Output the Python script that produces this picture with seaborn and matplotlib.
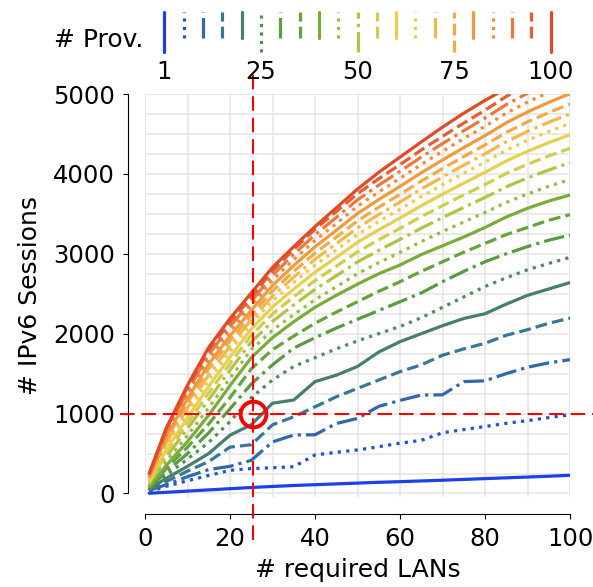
import pandas as pd
import matplotlib
matplotlib.use('Agg')
from matplotlib import pyplot as plt
from matplotlib.ticker import MultipleLocator
import seaborn as sns

# x values (# required LANs)
lans = [1, 5, 10, 15, 20, 25, 30, 35, 40, 45, 50, 55, 60, 65, 70, 75, 80, 85, 90, 95, 100]
providers = [1, 5, 10, 15, 20, 25, 30, 35, 40, 45, 50, 55, 60, 65, 70, 75, 80, 85, 90, 95, 100]

# IPv6 sessions per number of providers
prov_1 = [3, 15, 30, 45, 60, 75, 88, 100, 110, 120, 130, 140, 148, 157, 166, 176, 186, 196, 206, 216, 228]
prov_5 = [20, 90, 160, 225, 290, 312, 322, 335, 482, 515, 545, 585, 630, 665, 760, 800, 838, 878, 912, 950, 985]
prov_10 = [40, 110, 210, 300, 340, 415, 645, 732, 735, 875, 940, 1090, 1165, 1232, 1235, 1400, 1410, 1500, 1580, 1635, 1675]
prov_15 = [45, 150, 280, 400, 580, 610, 860, 960, 1085, 1210, 1315, 1420, 1525, 1610, 1730, 1810, 1880, 1980, 2050, 2130, 2195]
prov_20 = [55, 190, 340, 500, 730, 860, 1130, 1170, 1400, 1480, 1590, 1770, 1900, 2000, 2100, 2190, 2250, 2370, 2480, 2560, 2640]
prov_25 = [60, 230, 430, 640, 900, 1200, 1420, 1590, 1700, 1810, 1910, 2000, 2090, 2200, 2330, 2460, 2590, 2700, 2800, 2880, 2955]
prov_30 = [70, 270, 500, 760, 1060, 1370, 1610, 1820, 1950, 2070, 2180, 2290, 2400, 2510, 2650, 2780, 2900, 3000, 3090, 3170, 3235]
prov_35 = [80, 310, 580, 870, 1200, 1560, 1800, 1970, 2130, 2270, 2400, 2530, 2650, 2780, 2900, 3020, 3130, 3240, 3330, 3420, 3490]
prov_40 = [90, 350, 650, 980, 1350, 1700, 1950, 2150, 2330, 2480, 2620, 2750, 2860, 2990, 3100, 3210, 3330, 3460, 3570, 3660, 3736]
prov_45 = [106, 401, 727, 1073, 1442, 1800, 2044, 2240, 2425, 2586, 2751, 2889, 3018, 3152, 3278, 3399, 3517, 3643, 3749, 3844, 3930]
prov_50 = [127, 459, 812, 1175, 1543, 1896, 2153, 2360, 2554, 2724, 2898, 3043, 3180, 3320, 3453, 3581, 3705, 3838, 3950, 4049, 4140]
prov_55 = [142, 503, 880, 1258, 1627, 1979, 2246, 2462, 2665, 2843, 3024, 3175, 3318, 3465, 3603, 3737, 3866, 4005, 4121, 4225, 4320]
prov_60 = [157, 548, 947, 1340, 1708, 2056, 2335, 2559, 2770, 2954, 3143, 3300, 3448, 3601, 3745, 3884, 4019, 4162, 4283, 4391, 4490]
prov_65 = [172, 591, 1012, 1417, 1781, 2122, 2409, 2641, 2859, 3049, 3243, 3405, 3558, 3716, 3864, 4008, 4147, 4295, 4420, 4531, 4633]
prov_70 = [187, 633, 1073, 1487, 1844, 2176, 2470, 2708, 2931, 3126, 3325, 3491, 3648, 3810, 3962, 4109, 4251, 4403, 4532, 4646, 4750]
prov_75 = [203, 677, 1137, 1562, 1912, 2233, 2535, 2779, 3008, 3208, 3413, 3583, 3744, 3910, 4066, 4217, 4363, 4519, 4651, 4768, 4875]
prov_80 = [214, 709, 1186, 1622, 1973, 2292, 2603, 2853, 3088, 3293, 3504, 3679, 3844, 4014, 4174, 4329, 4479, 4640, 4775, 4895, 5005]
prov_85 = [225, 742, 1235, 1683, 2034, 2352, 2670, 2927, 3168, 3379, 3595, 3774, 3944, 4118, 4283, 4442, 4596, 4760, 4899, 5022, 5135]
prov_90 = [236, 773, 1283, 1740, 2090, 2405, 2730, 2993, 3239, 3455, 3675, 3859, 4032, 4211, 4379, 4541, 4699, 4867, 5009, 5135, 5250]
prov_95 = [247, 804, 1329, 1796, 2144, 2455, 2787, 3055, 3307, 3527, 3752, 3940, 4116, 4299, 4470, 4636, 4797, 4969, 5113, 5242, 5360]
prov_100 = [253, 820, 1355, 1830, 2190, 2510, 2830, 3090, 3340, 3575, 3810, 4020, 4210, 4400, 4585, 4760, 4920, 5070, 5210, 5340, 5470]

sessions = [prov_1, prov_5, prov_10, prov_15, prov_20, prov_25, prov_30, prov_35, prov_40, prov_45, prov_50,
            prov_55, prov_60, prov_65, prov_70, prov_75, prov_80, prov_85, prov_90, prov_95, prov_100]

colors = ['#1f3fe8', '#2152d6', '#2f68ae', '#377894', '#477e6e', '#4f8c58', '#5a9a42', '#66a23e', '#7aac3a',
          '#98ba46', '#b4c244', '#cfcc4e', '#e6d04e', '#f0c850', '#f2b84a', '#f2aa48', '#f09a3e', '#ef8a40',
          '#ec783c', '#e65e30', '#e04a28']
legend_ticks = ['1', '25', '50', '75', '100']

# marked point
mark_lans = 25.5
mark_sessions = 1000


def main():
    sns.set_style('ticks', {'axes.edgecolor': 'black', 'text.color': 'black',
                            'axes.labelcolor': 'black', 'xtick.color': 'black', 'ytick.color': 'black'})
    plt.rcParams['font.family'] = ['DejaVu Sans']
    plt.rcParams['font.size'] = 18

    # long format dataframe ---------------------------------------------------
    rows = []
    for p, vals in zip(providers, sessions):
        for x, y in zip(lans, vals):
            rows.append((p, x, y))
    df = pd.DataFrame(rows, columns=['prov', 'lans', 'sessions'])

    cycle = ['', (1, 1.65), (6.4, 1.6, 1, 1.6), (3.7, 1.6)]
    palette = {p: c for p, c in zip(providers, colors)}
    dashes = {p: cycle[i % 4] for i, p in enumerate(providers)}

    fig = plt.figure(figsize=(5.93, 5.87), dpi=100)
    ax = fig.add_axes([145 / 593, 90 / 587, 425 / 593, 403 / 587])

    sns.lineplot(data=df, x='lans', y='sessions', hue='prov', style='prov', palette=palette,
                 dashes=dashes, linewidth=2.3, legend=False, errorbar=None, ax=ax)

    # red reference lines + circle
    ax.plot([mark_lans, mark_lans], [-580, 5300], color='red', lw=1.5, ls=(0, (7, 3.3)),
            clip_on=False, zorder=5)
    ax.plot([-6, 105.5], [mark_sessions, mark_sessions], color='red', lw=1.5, ls=(0, (7, 3.3)),
            clip_on=False, zorder=5)
    ax.plot([mark_lans], [mark_sessions], 'o', mfc='none', mec='red', ms=18.5, mew=2.8,
            clip_on=False, zorder=6)

    ax.set_xlim(0, 100)
    ax.set_ylim(-44, 5000)
    ax.xaxis.set_major_locator(MultipleLocator(20))
    ax.yaxis.set_major_locator(MultipleLocator(1000))
    ax.xaxis.set_minor_locator(MultipleLocator(10))
    ax.yaxis.set_minor_locator(MultipleLocator(250))
    ax.tick_params(which='minor', length=0)
    ax.tick_params(which='major', labelsize=17.5, pad=6)
    ax.grid(which='both', color='#e4e4e4', lw=1.1)
    ax.set_axisbelow(True)
    ax.set_xlabel('# required LANs', fontsize=18, labelpad=5)
    ax.set_ylabel('# IPv6 Sessions', fontsize=18, labelpad=8)
    sns.despine(ax=ax, offset=12, trim=True)

    # provider "legend" strip -------------------------------------------------
    lax = fig.add_axes([145 / 593, 535 / 587, 425 / 593, 40 / 587])
    for i, p in enumerate(providers):
        low = 0.0 if i % 5 == 0 else 0.35
        ls = '-' if cycle[i % 4] == '' else (0, cycle[i % 4])
        lax.plot([i, i], [low, 1], color=palette[p], lw=2.3, ls=ls, clip_on=False)
    lax.set_xlim(-1, 21)
    lax.set_ylim(0, 1)
    lax.set_xticks([0, 5, 10, 15, 20], legend_ticks)
    lax.set_yticks([])
    lax.tick_params(length=0, pad=6, labelsize=17.5)
    for s in lax.spines.values():
        s.set_visible(False)
    fig.text(143 / 593, 1 - 40 / 587, '# Prov.', ha='right', va='center', fontsize=18)

    fig.savefig('out.png', dpi=100)


if __name__ == "__main__":
    main()
